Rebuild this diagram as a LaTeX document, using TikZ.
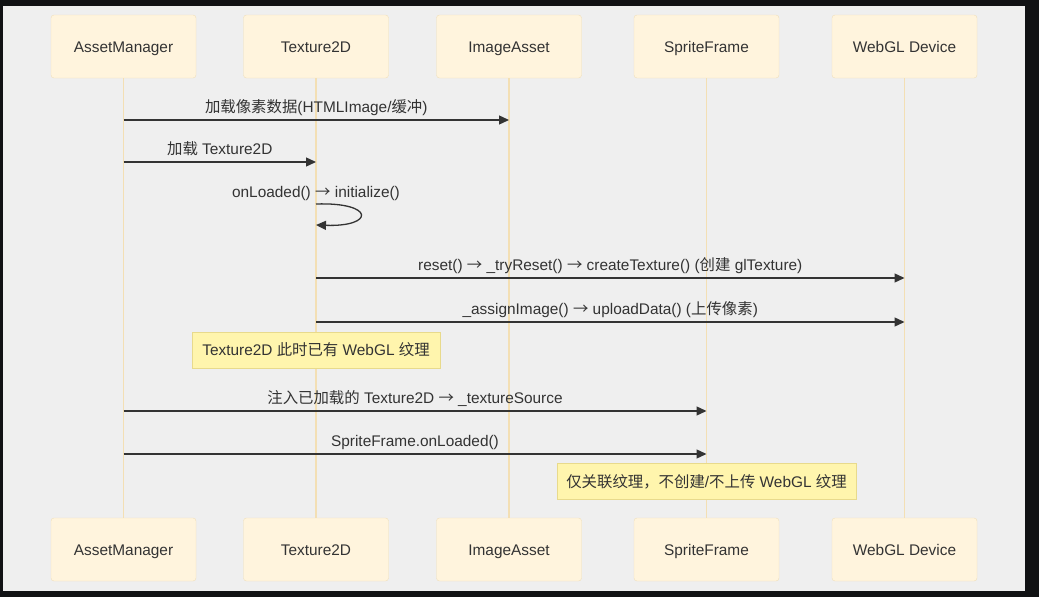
\documentclass[tikz,border=0pt]{standalone}
\usepackage{fontspec}
\setmainfont{Liberation Sans}
\newfontfamily\cjk{Noto Sans CJK SC}
\newcommand{\zh}[1]{{\cjk #1}}
\newcommand{\arr}{{\cjk →}}
\usepackage{tikz}
\usetikzlibrary{arrows.meta}

\definecolor{frame}{HTML}{111214}
\definecolor{bg}{HTML}{EFEFEF}
\definecolor{actorfill}{HTML}{FFF4DD}
\definecolor{actorline}{HTML}{F0DFBA}
\definecolor{lifeline}{HTML}{F3DFB4}
\definecolor{notefill}{HTML}{FFF5AD}
\definecolor{noteline}{HTML}{E8DA8C}
\definecolor{txt}{HTML}{333333}

\tikzset{
	actor/.style={draw=actorline, fill=actorfill, rounded corners=3pt, minimum width=145pt, minimum height=63pt, text height=12pt, text depth=0pt, text=txt, font=\fontsize{15.4}{18}\selectfont},
	life/.style={draw=lifeline, line width=1.3pt},
	msg/.style={draw=txt, line width=1.3pt, -{Triangle[length=10pt,width=9pt]}},
	lbl/.style={anchor=base, yshift=8pt, inner sep=0pt, text=txt, font=\fontsize{15.4}{18}\selectfont},
	note/.style={draw=noteline, fill=notefill, minimum height=36pt, text=txt, font=\fontsize{15.4}{18}\selectfont}
}

\begin{document}
\begin{tikzpicture}[x=1pt,y=-1pt]
	\fill[frame] (0,0) rectangle (1039,597);
	\fill[bg] (3,6) rectangle (1025,591);
	\useasboundingbox (0,0) rectangle (1039,597);

	% participants, top and bottom
	\node[actor] (am)  at (123.5, 46.5)  {AssetManager};
	\node[actor] (tex) at (316, 46.5)    {Texture2D};
	\node[actor] (ia)  at (509, 46.5)    {ImageAsset};
	\node[actor] (sf)  at (706.5, 46.5)  {SpriteFrame};
	\node[actor] (gl)  at (904.5, 46.5)  {WebGL Device};

	\node[actor] (amB)  at (123.5, 549.5) {AssetManager};
	\node[actor] (texB) at (316, 549.5)   {Texture2D};
	\node[actor] (iaB)  at (509, 549.5)   {ImageAsset};
	\node[actor] (sfB)  at (706.5, 549.5) {SpriteFrame};
	\node[actor] (glB)  at (904.5, 549.5) {WebGL Device};

	\draw[life] (am.south)  -- (amB.north);
	\draw[life] (tex.south) -- (texB.north);
	\draw[life] (ia.south)  -- (iaB.north);
	\draw[life] (sf.south)  -- (sfB.north);
	\draw[life] (gl.south)  -- (glB.north);

	% message rows
	\coordinate (r1) at (0,120);
	\coordinate (r2) at (0,162);
	\coordinate (r3) at (0,204);
	\coordinate (r3e) at (0,225);
	\coordinate (r4) at (0,278);
	\coordinate (r5) at (0,322);
	\coordinate (r6) at (0,350);
	\coordinate (r7) at (0,411);
	\coordinate (r8) at (0,454);
	\coordinate (r9) at (0,481.5);

	\draw[msg] (am |- r1) -- node[lbl]{\zh{加载像素数据}(HTMLImage/\zh{缓冲})} (ia |- r1);
	\draw[msg] (am |- r2) -- node[lbl]{\zh{加载} Texture2D} (tex |- r2);
	\node[lbl, yshift=-1pt] (selflbl) at (tex |- r3) {onLoaded() \arr{} initialize()};
	\draw[msg] (tex |- r3) .. controls +(59,-2) and +(59,2) .. (tex |- r3e);
	\draw[msg] (tex |- r4) -- node[lbl]{reset() \arr{} \_tryReset() \arr{} createTexture() (\zh{创建} glTexture)} (gl |- r4);
	\draw[msg] (tex |- r5) -- node[lbl]{\_assignImage() \arr{} uploadData() (\zh{上传像素})} (gl |- r5);

	\node[note, minimum width=248pt] (note1) at (tex |- r6) {Texture2D \zh{此时已有} WebGL \zh{纹理}};

	\draw[msg] (am |- r7) -- node[lbl]{\zh{注入已加载的} Texture2D \arr{} \_textureSource} (sf |- r7);
	\draw[msg] (am |- r8) -- node[lbl]{SpriteFrame.onLoaded()} (sf |- r8);

	\node[note, minimum width=299pt] (note2) at (sf |- r9) {\zh{仅关联纹理，不创建}/\zh{不上传} WebGL \zh{纹理}};
\end{tikzpicture}
\end{document}
